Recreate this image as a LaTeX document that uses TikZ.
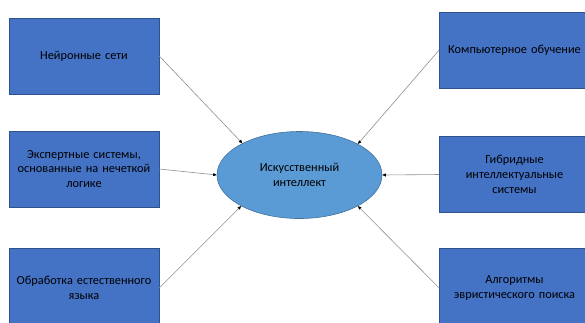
\documentclass[tikz,border=0pt]{standalone}
\usepackage{fontspec}
\setmainfont{Carlito}
\usetikzlibrary{arrows.meta,shapes.geometric}
\definecolor{boxfill}{HTML}{4472C4}
\definecolor{boxline}{HTML}{2F528F}
\definecolor{ellfill}{HTML}{5B9BD5}
\definecolor{ellline}{HTML}{41719C}
\definecolor{linkgray}{HTML}{909090}
\tikzset{
  topic/.style={draw=boxline, line width=0.6pt, fill=boxfill, minimum width=148.5pt, minimum height=76pt,
    inner sep=2pt, align=center, text width=146pt, font=\fontsize{12.3}{14.8}\selectfont, text=black},
  core/.style={ellipse, draw=ellline, line width=0.6pt, fill=ellfill, minimum width=165pt, minimum height=87pt,
    inner sep=0pt, align=center, font=\fontsize{12.3}{14.8}\selectfont, text=black},
  link/.style={draw=linkgray, line width=0.6pt, -{Triangle[length=3.5pt,width=3pt,color=black]}}
}
\begin{document}
\begin{tikzpicture}[x=1pt,y=-1pt]
\useasboundingbox (0,0) rectangle (585,322);
\node[core] (ai) at (299.5,175) {Искусственный\\интеллект};
\node[topic] (l1) at (84,56) {Нейронные сети};
\node[topic] (l2) at (84,169) {Экспертные системы,\\основанные на нечеткой\\логике};
\node[topic, minimum height=80pt] (l3) at (84,288) {Обработка естественного\\языка};
\node[topic] (r1) at (514.5,50) {Компьютерное обучение};
\node[topic] (r2) at (514.5,174.5) {Гибридные\\интеллектуальные\\системы};
\node[topic, minimum height=80pt] (r3) at (514.5,288) {Алгоритмы\\эвристического поиска};
\draw[link] (l1.east) -- (ai.151);
\draw[link] (l2.east) -- (ai.180);
\draw[link] (l3.east) -- (ai.208);
\draw[link] (r1.west) -- (ai.28);
\draw[link] (r2.west) -- (ai.0);
\draw[link] (r3.west) -- (ai.332);
\end{tikzpicture}
\end{document}
